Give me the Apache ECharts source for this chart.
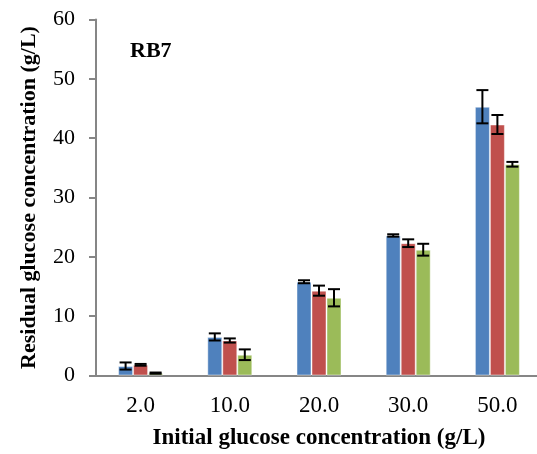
<!DOCTYPE html>
<html>
<head>
<meta charset="utf-8">
<script src="https://cdn.jsdelivr.net/npm/echarts@6/dist/echarts.min.js"></script>
<style>
html,body{margin:0;padding:0;background:#fff;}
#chart{width:537px;height:454px;}
</style>
</head>
<body>
<div id="chart"></div>
<script>
const categories = ['2.0', '10.0', '20.0', '30.0', '50.0'];
const blueValues = [1.6, 6.5, 15.8, 23.6, 45.3];
const blueErrors = [0.6, 0.6, 0.25, 0.2, 2.8];
const redValues = [1.8, 5.9, 14.3, 22.3, 42.3];
const redErrors = [0.15, 0.35, 0.85, 0.65, 1.6];
const greenValues = [0.4, 3.5, 13.1, 21.2, 35.6];
const greenErrors = [0.1, 0.9, 1.45, 1.0, 0.4];
const yTicks = [0, 10, 20, 30, 40, 50, 60];

const colors = ['#4F81BD', '#C0504D', '#9BBB59'];
const FONT = '"Liberation Serif", "Times New Roman", serif';
const BAR_W = 15;

const seriesVals = [blueValues, redValues, greenValues];
const seriesErrs = [blueErrors, redErrors, greenErrors];

function errorSeries(idx) {
  const vals = seriesVals[idx], errs = seriesErrs[idx];
  return {
    type: 'custom',
    z: 5,
    data: vals.map((v, i) => [i, v - errs[i], v + errs[i]]),
    renderItem: function (params, api) {
      const ci = api.value(0);
      const lo = api.coord([ci, api.value(1)]);
      const hi = api.coord([ci, api.value(2)]);
      const x = lo[0] + (idx - 1) * BAR_W;
      const cap = 6;
      const style = { stroke: '#000', lineWidth: 2 };
      return {
        type: 'group',
        children: [
          { type: 'line', shape: { x1: x, y1: lo[1], x2: x, y2: hi[1] }, style: style },
          { type: 'line', shape: { x1: x - cap, y1: lo[1], x2: x + cap, y2: lo[1] }, style: style },
          { type: 'line', shape: { x1: x - cap, y1: hi[1], x2: x + cap, y2: hi[1] }, style: style }
        ]
      };
    }
  };
}

const chart = echarts.init(document.getElementById('chart'), null, { renderer: 'canvas' });
chart.setOption({
  animation: false,
  backgroundColor: '#fff',
  textStyle: { fontFamily: FONT },
  grid: { left: 96, top: 19.5, width: 446, height: 356, containLabel: false, outerBoundsMode: 'none' },
  graphic: [{
    type: 'text', left: 130, top: 40,
    style: { text: 'RB7', font: 'bold 22px ' + FONT, fill: '#000' }
  }],
  xAxis: {
    type: 'category',
    data: categories,
    name: 'Initial glucose concentration (g/L)',
    nameLocation: 'middle',
    nameGap: 51,
    nameTextStyle: { fontFamily: FONT, fontWeight: 'bold', fontSize: 23, color: '#000' },
    axisLine: { lineStyle: { color: '#868686', width: 2 } },
    axisTick: { show: false },
    axisLabel: { fontFamily: FONT, fontSize: 23, color: '#000', margin: 19 }
  },
  yAxis: {
    type: 'value',
    min: yTicks[0], max: yTicks[yTicks.length - 1], interval: 10,
    name: 'Residual glucose concentration (g/L)',
    nameLocation: 'middle',
    nameGap: 56,
    nameTextStyle: { fontFamily: FONT, fontWeight: 'bold', fontSize: 22, color: '#000' },
    axisLine: { show: true, lineStyle: { color: '#868686', width: 2 } },
    axisTick: { show: true, length: 7, lineStyle: { color: '#868686', width: 2 } },
    splitLine: { show: false },
    axisLabel: { fontFamily: FONT, fontSize: 22, color: '#000', margin: 21 }
  },
  series: [
    { type: 'bar', data: blueValues, barWidth: BAR_W, barGap: '0%', itemStyle: { color: colors[0], borderColor: 'rgba(255,255,255,0.45)', borderWidth: 1 } },
    { type: 'bar', data: redValues, barWidth: BAR_W, barGap: '0%', itemStyle: { color: colors[1], borderColor: 'rgba(255,255,255,0.45)', borderWidth: 1 } },
    { type: 'bar', data: greenValues, barWidth: BAR_W, barGap: '0%', itemStyle: { color: colors[2], borderColor: 'rgba(255,255,255,0.45)', borderWidth: 1 } },
    errorSeries(0), errorSeries(1), errorSeries(2)
  ]
});
</script>
</body>
</html>
